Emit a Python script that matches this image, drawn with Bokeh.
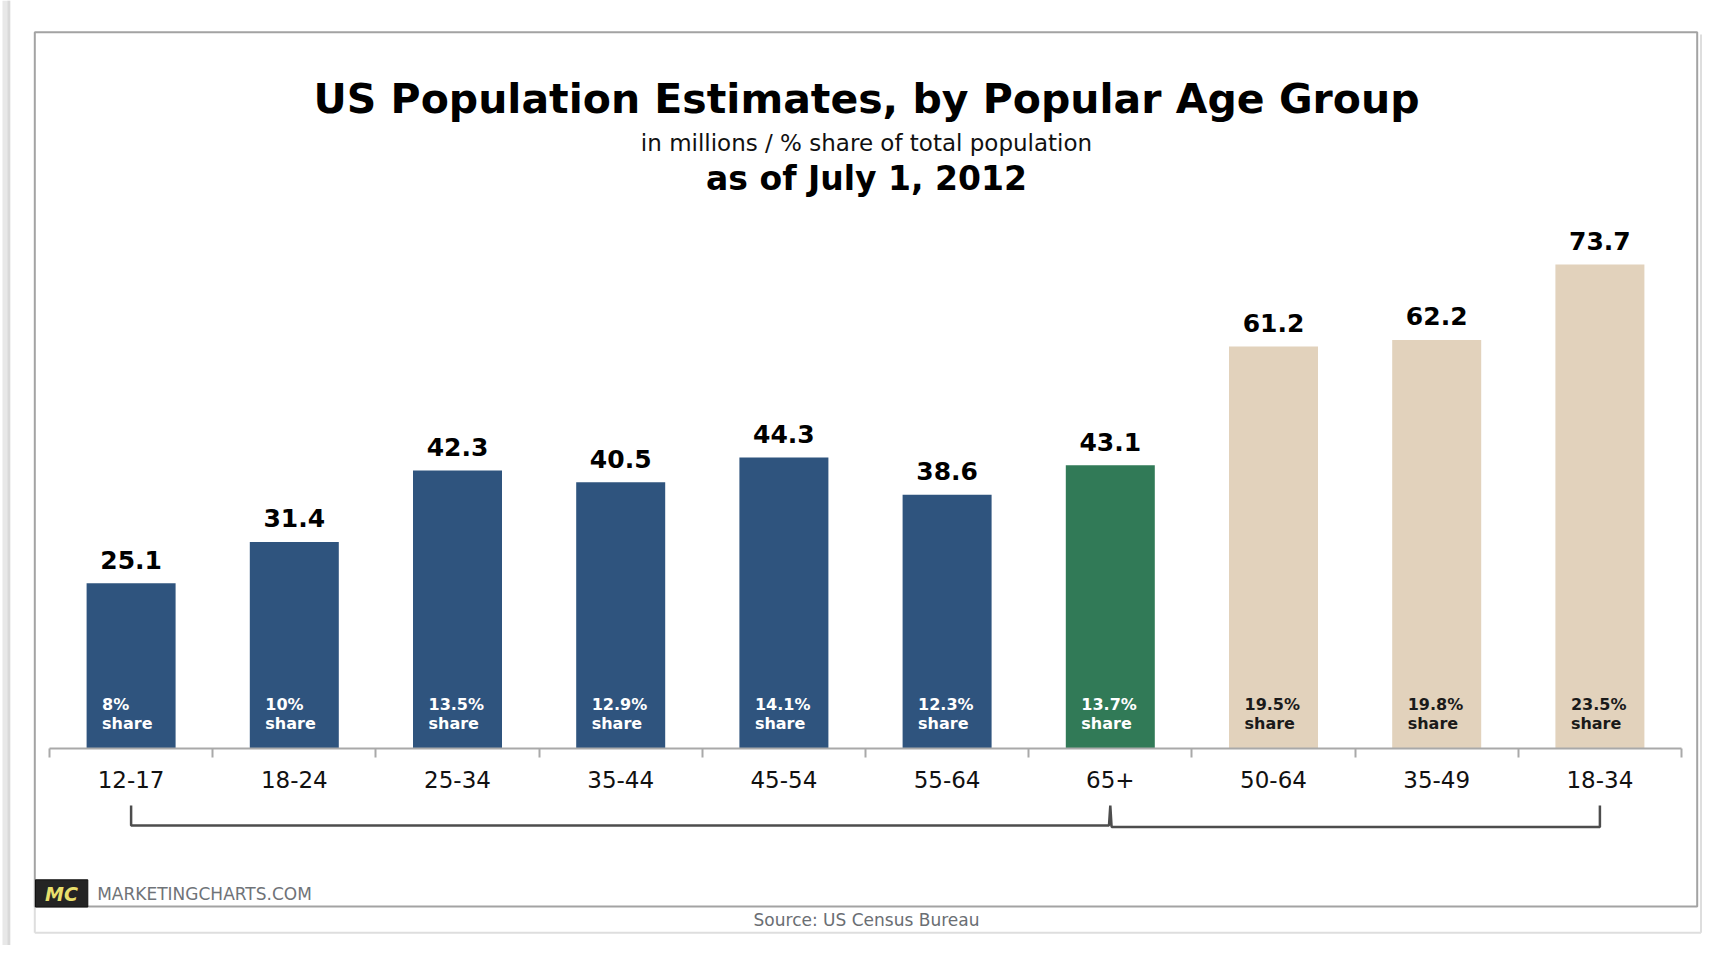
from bokeh.plotting import figure
from bokeh.models import Range1d, LinearAxis, FixedTicker, ColumnDataSource
from bokeh.core.properties import value
from bokeh.embed import file_html
from bokeh.resources import INLINE

# ---------------- data ----------------
categories = ["12-17", "18-24", "25-34", "35-44", "45-54", "55-64", "65+", "50-64", "35-49", "18-34"]
population = [25.1, 31.4, 42.3, 40.5, 44.3, 38.6, 43.1, 61.2, 62.2, 73.7]
shares = ["8%", "10%", "13.5%", "12.9%", "14.1%", "12.3%", "13.7%", "19.5%", "19.8%", "23.5%"]
groups = ["detail", "detail", "detail", "detail", "detail", "detail", "seniors", "broad", "broad", "broad"]

title_text = "US Population Estimates, by Popular Age Group"
subtitle_text = "in millions / % share of total population"
date_text = "as of July 1, 2012"
source_text = "Source: US Census Bureau"
brand_text = "MARKETINGCHARTS.COM"

GROUP_FILL = {"detail": "#2f547e", "seniors": "#317a57", "broad": "#e2d2bc"}
GROUP_TEXT = {"detail": "#ffffff", "seniors": "#ffffff", "broad": "#1a1a1a"}

# ---------------- layout (reference pixel geometry) ----------------
W, H = 1705, 945
AX_L, AX_R = 49.0, 1681.0      # axis extent in page px
BASE = 747.5                   # y pixel of value 0
PPU = 6.56                     # pixels per million
n = len(categories)
STEP = (AX_R - AX_L) / n
K = 0.35                       # baseline correction (fraction of font size)


def X(px):
    return (px - AX_L) / STEP


def Y(py):
    return (BASE - py) / PPU


def corr(size):
    return -K * size


FONT = value("DejaVu Sans")

p = figure(width=W, height=H, output_backend="svg", toolbar_location=None,
           x_range=Range1d(X(0), X(W)), y_range=Range1d(Y(H), Y(0)),
           x_axis_location=None, y_axis_location=None, min_border=0,
           outline_line_color=None, background_fill_color="white", border_fill_color="white")
p.grid.visible = False

# ---------------- frame decorations ----------------
p.quad(left=[X(2)], right=[X(10)], top=[Y(0)], bottom=[Y(H)], fill_color="#e8e8e8", line_color=None)
p.quad(left=[X(7)], right=[X(9.5)], top=[Y(0)], bottom=[Y(H)], fill_color="#d9d9d9", line_color=None)
p.segment(x0=[X(34.3), X(34.3), X(1700.5)], y0=[Y(906), Y(932.3), Y(34)],
          x1=[X(34.3), X(1700.5), X(1700.5)], y1=[Y(932.3), Y(932.3), Y(932.3)],
          line_color="#dedede", line_width=2)
p.quad(left=[X(34.3)], right=[X(1696.7)], top=[Y(31.7)], bottom=[Y(906)],
       fill_color=None, line_color="#a3a3a3", line_width=2)

# ---------------- bars ----------------
xs = [i + 0.5 for i in range(n)]
src = ColumnDataSource(dict(
    x=xs, value=population, cat=categories,
    label=[f"{v:.1f}" for v in population],
    share=shares, word=["share"] * n,
    fill=[GROUP_FILL[g] for g in groups],
    tcol=[GROUP_TEXT[g] for g in groups],
))
p.vbar(x="x", top="value", bottom=0, width=89 / STEP, fill_color="fill", line_color=None, source=src)

p.text(x="x", y="value", text="label", source=src, y_offset=-15 + corr(25),
       text_align="center", text_baseline="alphabetic",
       text_font=FONT, text_font_style="bold", text_font_size="25px", text_color="#000000")

p.text(x="x", y=0, text="share", source=src, x_offset=-29, y_offset=-(BASE - 710) + corr(16),
       text_align="left", text_baseline="alphabetic",
       text_font=FONT, text_font_style="bold", text_font_size="16px", text_color="tcol")
p.text(x="x", y=0, text="word", source=src, x_offset=-29, y_offset=-(BASE - 729) + corr(16),
       text_align="left", text_baseline="alphabetic",
       text_font=FONT, text_font_style="bold", text_font_size="16px", text_color="tcol")

# ---------------- axis ----------------
xaxis = LinearAxis(fixed_location=0, bounds=(0, n),
                   ticker=FixedTicker(ticks=xs, minor_ticks=list(range(n + 1))),
                   major_label_overrides={x: c for x, c in zip(xs, categories)})
xaxis.axis_line_color = "#a9a9a9"
xaxis.axis_line_width = 2
xaxis.major_tick_line_color = None
xaxis.major_tick_in = 0
xaxis.major_tick_out = 0
xaxis.minor_tick_line_color = "#a9a9a9"
xaxis.minor_tick_line_width = 2
xaxis.minor_tick_in = 0
xaxis.minor_tick_out = 9
xaxis.major_label_standoff = 14
xaxis.major_label_text_font = "DejaVu Sans"
xaxis.major_label_text_font_size = "23px"
xaxis.major_label_text_color = "#111111"
p.add_layout(xaxis, "below")

# ---------------- group brackets ----------------
i0 = categories.index("12-17")
im = categories.index("65+")
i1 = categories.index("18-34")
top_b, bot_b, bot_b2 = Y(805), Y(825), Y(826.5)
bx = [xs[i0], xs[i0], xs[im] - 0.008, xs[im], xs[im] + 0.008, xs[i1], xs[i1]]
by = [top_b, bot_b, bot_b, top_b, bot_b2, bot_b2, top_b]
p.line(x=bx, y=by, line_color="#4d4d4d", line_width=2.5)

# ---------------- titles ----------------
CX = X(866)
p.text(x=[CX], y=[Y(112.7)], text=[title_text], y_offset=corr(41),
       text_align="center", text_baseline="alphabetic",
       text_font=FONT, text_font_style="bold", text_font_size="41px", text_color="#000000")
p.text(x=[CX], y=[Y(150.7)], text=[subtitle_text], y_offset=corr(23),
       text_align="center", text_baseline="alphabetic",
       text_font=FONT, text_font_size="23px", text_color="#111111")
p.text(x=[CX], y=[Y(189.3)], text=[date_text], y_offset=corr(33),
       text_align="center", text_baseline="alphabetic",
       text_font=FONT, text_font_style="bold", text_font_size="33px", text_color="#000000")

# ---------------- footer ----------------
p.quad(left=[X(35)], right=[X(87.3)], top=[Y(879.3)], bottom=[Y(906.5)],
       fill_color="#242424", line_color="#111111", line_width=1)
p.text(x=[X(61)], y=[Y(900.5)], text=["MC"], y_offset=corr(19),
       text_align="center", text_baseline="alphabetic",
       text_font=FONT, text_font_style="bold italic", text_font_size="19px", text_color="#e8df6c")
p.text(x=[X(96.7)], y=[Y(899.3)], text=[brand_text], y_offset=corr(17),
       text_align="left", text_baseline="alphabetic",
       text_font=FONT, text_font_size="17px", text_color="#6f7378")
p.text(x=[CX], y=[Y(925.7)], text=[source_text], y_offset=corr(17),
       text_align="center", text_baseline="alphabetic",
       text_font=FONT, text_font_size="17px", text_color="#6a6e73")

open("out.html", "w").write(file_html(p, INLINE))
